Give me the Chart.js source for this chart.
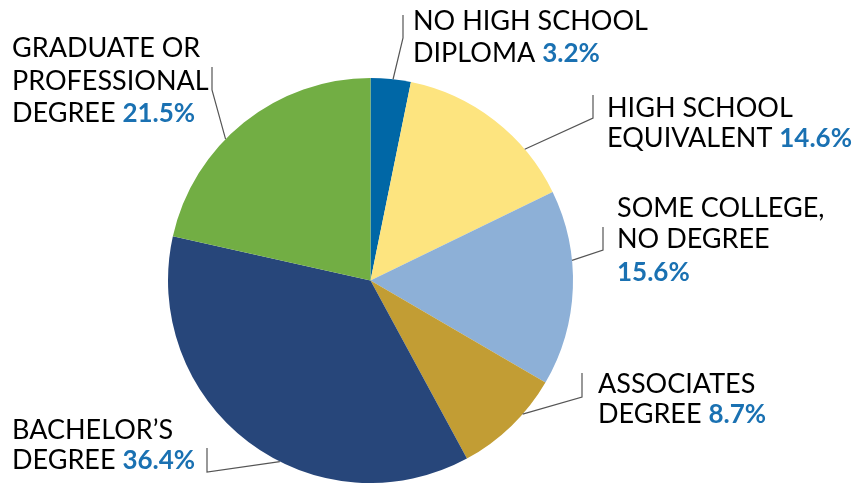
<!DOCTYPE html>
<html>
<head>
<meta charset="utf-8">
<script src="https://cdn.jsdelivr.net/npm/chart.js@4.4.1/dist/chart.umd.min.js"></script>
<style>
  html, body { margin: 0; padding: 0; background: #fff; }
  #wrap { width: 856px; height: 483px; position: relative; }
</style>
</head>
<body>
<div id="wrap"><canvas id="chart"></canvas></div>
<script>
// datos del gráfico
const categories = [
  ["NO HIGH SCHOOL", "DIPLOMA"],
  ["HIGH SCHOOL", "EQUIVALENT"],
  ["SOME COLLEGE,", "NO DEGREE"],
  ["ASSOCIATES", "DEGREE"],
  ["BACHELOR\u2019S", "DEGREE"],
  ["GRADUATE OR", "PROFESSIONAL", "DEGREE"],
];
const values = [3.2, 14.6, 15.6, 8.7, 36.4, 21.5];
const colors = ["#0067a6", "#fde47f", "#8db0d7", "#c29d34", "#27467a", "#72ae44"];

// posición de las etiquetas (x, líneas base), codo de la guía y ángulo donde toca el pastel
const labelLayout = [
  { x: 413, baselines: [30, 62], pctOwnLine: false, elbow: [403, 15, 38], angle: 6.4 },
  { x: 607, baselines: [117, 147], pctOwnLine: false, elbow: [593, 95, 118], angle: 49.6 },
  { x: 617, baselines: [217, 248, 281], pctOwnLine: true, elbow: [603, 227, 250], angle: 84.3 },
  { x: 598, baselines: [393, 423], pctOwnLine: false, elbow: [582, 373, 397], angle: 131.3 },
  { x: 12, baselines: [439, 469], pctOwnLine: false, elbow: [207, 448, 472], angle: 206.6 },
  { x: 12, baselines: [57, 90, 122], pctOwnLine: false, elbow: [212, 67, 90], angle: 314.3 },
];

const FONT = "Lato, 'Open Sans', sans-serif";
const pctColor = "#1a71b2";

const labelPlugin = {
  id: "pieLabels",
  afterDraw(chart) {
    const ctx = chart.ctx;
    const arc = chart.getDatasetMeta(0).data[0];
    const cx = arc.x, cy = arc.y, r = arc.outerRadius;
    ctx.save();
    labelLayout.forEach((lay, i) => {
      // línea guía
      const a = (lay.angle * Math.PI) / 180;
      const ex = cx + r * Math.sin(a);
      const ey = cy - r * Math.cos(a);
      ctx.strokeStyle = "#555";
      ctx.lineWidth = 1.2;
      ctx.beginPath();
      ctx.moveTo(lay.elbow[0], lay.elbow[1]);
      ctx.lineTo(lay.elbow[0], lay.elbow[2]);
      ctx.lineTo(ex, ey);
      ctx.stroke();

      // texto
      ctx.textBaseline = "alphabetic";
      ctx.textAlign = "left";
      const lines = categories[i];
      const pct = values[i].toFixed(1) + "%";
      lines.forEach((line, j) => {
        ctx.font = "27px " + FONT;
        ctx.fillStyle = "#000";
        ctx.fillText(line, lay.x, lay.baselines[j]);
        if (j === lines.length - 1 && !lay.pctOwnLine) {
          const w = ctx.measureText(line + " ").width;
          ctx.font = "bold 26px " + FONT;
          ctx.fillStyle = pctColor;
          ctx.fillText(pct, lay.x + w, lay.baselines[j]);
        }
      });
      if (lay.pctOwnLine) {
        ctx.font = "bold 26px " + FONT;
        ctx.fillStyle = pctColor;
        ctx.fillText(pct, lay.x, lay.baselines[lines.length]);
      }
    });
    ctx.restore();
  },
};

document.addEventListener("DOMContentLoaded", function () {
  const chartCtx = document.getElementById("chart").getContext("2d");
  new Chart(chartCtx, {
    type: "pie",
    data: {
      labels: categories.map((c) => c.join(" ")),
      datasets: [
        {
          data: values,
          backgroundColor: colors,
          borderWidth: 0,
          hoverOffset: 0,
        },
      ],
    },
    options: {
      responsive: true,
      maintainAspectRatio: false,
      animation: false,
      layout: {
        padding: { top: 78, bottom: 0, left: 0, right: 115 },
      },
      plugins: {
        legend: { display: false },
        tooltip: { enabled: false },
        title: { display: false },
      },
    },
    plugins: [labelPlugin],
  });
});
</script>
</body>
</html>
